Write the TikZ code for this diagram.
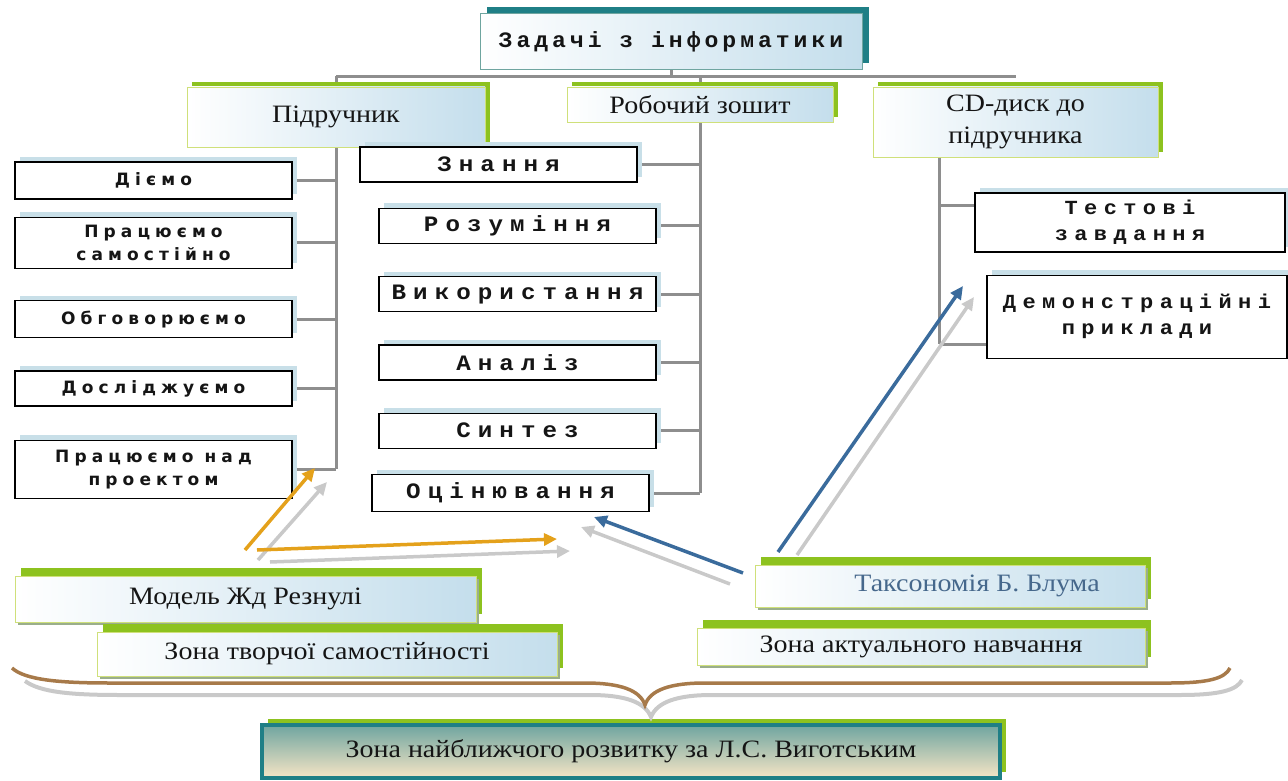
\documentclass[tikz,border=0pt]{standalone}
\usepackage{fontspec}
\setmainfont{Liberation Serif}
\newfontfamily\serifwide[FakeStretch=1.12]{Liberation Serif}
\newfontfamily\monotitle[UprightFont={* Bold}, FakeStretch=1.05, LetterSpace=18]{Liberation Mono}
\newfontfamily\monowide[UprightFont={* Bold}, FakeStretch=1.1, LetterSpace=32]{Liberation Mono}
\newfontfamily\sansspaced[UprightFont={* Bold}, LetterSpace=30]{DejaVu Sans}
\usetikzlibrary{positioning,shadows,arrows.meta,backgrounds}

\definecolor{linegray}{HTML}{8E8E8E}
\definecolor{leafgreen}{HTML}{8DC21F}
\definecolor{palegreen}{HTML}{CFE07A}
\definecolor{skyblue}{HTML}{C4DEEC}
\definecolor{shadeblue}{HTML}{C8DFE8}
\definecolor{tealdark}{HTML}{1F7F86}
\definecolor{tealsoft}{HTML}{6FA5A0}
\definecolor{arrorange}{HTML}{E4A11B}
\definecolor{arrblue}{HTML}{3A6B9C}
\definecolor{arrgray}{HTML}{C9C9C9}
\definecolor{bracebrown}{HTML}{A77A4A}
\definecolor{sandbeige}{HTML}{F6E5C5}
\definecolor{taxblue}{HTML}{46688C}
\definecolor{bevelgray}{HTML}{9AAE8C}
\definecolor{inkdark}{HTML}{151515}

\tikzset{
  stem/.style={draw=linegray, line width=3pt},
  rootbox/.style={draw=tealsoft, line width=1pt, left color=white, right color=skyblue,
    font=\monotitle\fontsize{22}{26}\selectfont, inner sep=1pt, text=inkdark,
    general shadow={fill=tealdark, shadow xshift=7pt, shadow yshift=7pt}},
  headbox/.style={draw=palegreen, line width=0.8pt, left color=white, right color=skyblue,
    font=\serifwide\fontsize{25}{32}\selectfont, align=center, inner sep=1pt, text=inkdark,
    general shadow={fill=leafgreen, shadow xshift=5pt, shadow yshift=5pt}},
  leafbox/.style={draw=black, line width=1.3pt, fill=white, align=center, inner sep=1pt, text=inkdark,
    general shadow={fill=shadeblue, shadow xshift=5pt, shadow yshift=5pt}},
  leftbox/.style={leafbox, minimum width=277pt, minimum height=37pt,
    font=\sansspaced\fontsize{17}{23}\selectfont},
  midbox/.style={leafbox, minimum width=277pt, minimum height=35pt,
    font=\monowide\fontsize{22}{22}\selectfont},
  rightbox/.style={leafbox, font=\monowide\fontsize{20}{26}\selectfont},
  bevelbox/.style={draw=palegreen, line width=1pt, left color=white, right color=skyblue,
    font=\serifwide\fontsize{25}{28}\selectfont, inner sep=1pt, text=inkdark,
    general shadow={fill=leafgreen, shadow xshift=6pt, shadow yshift=8pt},
    general shadow={fill=bevelgray, shadow xshift=3pt, shadow yshift=-3pt}},
  zonebox/.style={draw=tealdark, line width=4pt, top color=tealsoft, bottom color=sandbeige,
    font=\serifwide\fontsize{25}{28}\selectfont, inner sep=1pt, text=inkdark,
    general shadow={fill=leafgreen, shadow xshift=6pt, shadow yshift=6pt}},
  flowarrow/.style={line width=3.5pt, -{Triangle[length=13pt,width=12pt]}},
}

\begin{document}
\begin{tikzpicture}[x=1pt, y=-1pt]
  \useasboundingbox (0,0) rectangle (1288,781);

  % top of the tree
  \node[rootbox, minimum width=382pt, minimum height=56pt] (title) at (671,42) {Задачі з інформатики};
  \node[headbox, minimum width=298pt, minimum height=60pt] (pidr) at (336,117) {Підручник};
  \node[headbox, minimum width=266pt, minimum height=35pt] (robo) at (700,104.5) {Робочий зошит};
  \node[headbox, minimum width=285pt, minimum height=70pt] (cd) at (1015.5,122) {CD-диск до\\підручника};

  % textbook column
  \node[leftbox] (dimo) at (153.5,180.5) {Діємо};
  \node[leftbox, minimum height=51pt, below=17pt of dimo] (pracsam) {Працюємо\\самостійно};
  \node[leftbox, below=31pt of pracsam] (obhov) {Обговорюємо};
  \node[leftbox, minimum height=35pt, below=32pt of obhov] (doslid) {Досліджуємо};
  \node[leftbox, minimum height=58pt, below=33pt of doslid] (proekt) {Працюємо над\\проектом};

  % workbook column
  \node[midbox] (znannia) at (498.5,164.5) {Знання};
  \node[midbox, below=25pt of znannia, xshift=19pt] (rozum) {Розуміння};
  \node[midbox, below=32pt of rozum] (vykor) {Використання};
  \node[midbox, below=32pt of vykor] (analiz) {Аналіз};
  \node[midbox, below=32pt of analiz] (syntez) {Синтез};
  \node[midbox, minimum height=37pt, below=25pt of syntez, xshift=-7pt] (otsin) {Оцінювання};

  % CD column
  \node[rightbox, minimum width=310pt, minimum height=59pt] (test) at (1130,222.5) {Тестові\\завдання};
  \node[rightbox, minimum width=300pt, minimum height=83pt, below=22pt of test, xshift=7pt] (demo) {Демонстраційні\\приклади};

  % zones
  \node[bevelbox, minimum width=461pt, minimum height=46pt] (model) at (245.5,599) {Модель Жд Резнулі};
  \node[bevelbox, minimum width=460pt, minimum height=44pt] (tvorch) at (327,654) {Зона творчої самостійності};
  \node[bevelbox, minimum width=390pt, minimum height=42pt, text=taxblue] (taks) at (950,586) {\hspace*{54pt}Таксономія Б. Блума};
  \node[bevelbox, minimum width=448pt, minimum height=37pt] (aktual) at (921,646.5) {Зона актуального навчання};
  \node[zonebox, minimum width=738pt, minimum height=53pt] (zona) at (631,751.5) {Зона найближчого розвитку за Л.С. Виготським};

  % tree lines
  \coordinate[below=6pt of title.south] (bus);
  \coordinate (cdstem) at ([xshift=67pt]cd.south west);
  \coordinate (testjoin) at ([yshift=17.5pt]test.west);
  \coordinate (demojoin) at ([yshift=-27.5pt]demo.west);
  \begin{scope}[on background layer]
    \draw[stem] (title.south) -- (bus);
    \draw[stem] (bus -| pidr) -- (bus -| cd);
    \draw[stem] (bus -| pidr) -- (pidr |- proekt);
    \foreach \n in {dimo,pracsam,obhov,doslid,proekt}
      \draw[stem] (\n.east) -- (\n -| pidr);
    \draw[stem] (bus -| robo) -- (robo |- otsin);
    \foreach \n in {znannia,rozum,vykor,analiz,syntez,otsin}
      \draw[stem] (\n.east) -- (\n -| robo);
    \draw[stem] (cdstem) -- (cdstem |- demojoin);
    \draw[stem] (testjoin) -- (cdstem |- testjoin);
    \draw[stem] (demojoin) -- (cdstem |- demojoin);
  \end{scope}

  % arrows
  \coordinate (renzA) at (245,550);   \coordinate (renzAtip) at (315,468);
  \coordinate (renzAs) at (258,560);  \coordinate (renzAstip) at (327,482);
  \coordinate (renzB) at (257,550);   \coordinate (renzBtip) at (557,539);
  \coordinate (renzBs) at (270,562);  \coordinate (renzBstip) at (570,551);
  \coordinate (bloomA) at (743,573);  \coordinate (bloomAtip) at (594,517);
  \coordinate (bloomAs) at (730,584); \coordinate (bloomAstip) at (581,527);
  \coordinate (bloomB) at (778,552);  \coordinate (bloomBtip) at (963,286);
  \coordinate (bloomBs) at (797,555); \coordinate (bloomBstip) at (974,297);

  \draw[flowarrow, arrgray] (renzAs) -- (renzAstip);
  \draw[flowarrow, arrgray] (renzBs) -- (renzBstip);
  \draw[flowarrow, arrgray] (bloomAs) -- (bloomAstip);
  \draw[flowarrow, arrgray] (bloomBs) -- (bloomBstip);
  \draw[flowarrow, arrorange] (renzA) -- (renzAtip);
  \draw[flowarrow, arrorange] (renzB) -- (renzBtip);
  \draw[flowarrow, arrblue] (bloomA) -- (bloomAtip);
  \draw[flowarrow, arrblue] (bloomB) -- (bloomBtip);

  % brace over the bottom zone
  \draw[arrgray, line width=4pt] (25,681) .. controls (40,692) and (70,695) .. (120,695) -- (590,695)
    .. controls (625,695) and (645,702) .. (651,717) .. controls (657,702) and (677,695) .. (712,695)
    -- (1180,695) .. controls (1220,695) and (1237,690) .. (1242,680);
  \draw[bracebrown, line width=3.5pt] (12,668) .. controls (25,680) and (60,683) .. (110,683) -- (585,683)
    .. controls (620,683) and (640,690) .. (645,705) .. controls (650,690) and (670,683) .. (705,683)
    -- (1170,683) .. controls (1210,683) and (1225,678) .. (1230,668);
\end{tikzpicture}
\end{document}
